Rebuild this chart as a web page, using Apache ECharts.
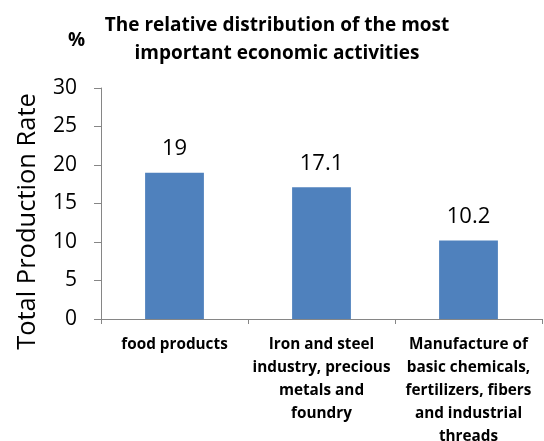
<!DOCTYPE html>
<html><head><meta charset="utf-8">
<script src="https://cdn.jsdelivr.net/npm/echarts@6/dist/echarts.min.js"></script>
<style>html,body{margin:0;padding:0;background:#fff}#c{width:544px;height:441px}</style>
</head><body><div id="c"></div>
<script>
const categories = [
  "food products",
  "Iron and steel\nindustry, precious\nmetals and\nfoundry",
  "Manufacture of\nbasic chemicals,\nfertilizers, fibers\nand industrial\nthreads"
];
const values = [19, 17.1, 10.2];
const yTicks = [0, 5, 10, 15, 20, 25, 30];

const font = "'Open Sans', sans-serif";
const chart = echarts.init(document.getElementById('c'));
chart.setOption({
  animation: false,
  title: [{
    text: "The relative distribution of the most\nimportant economic activities",
    left: 272, top: 7, textAlign: 'center',
    textStyle: {fontFamily: font, fontWeight: 'bold', fontSize: 19, lineHeight: 28, color: '#000'}
  }, {
    text: "%", left: 63, top: 26,
    textStyle: {fontFamily: font, fontWeight: 'bold', fontSize: 19, color: '#000'}
  }],
  grid: {left: 101, right: 2, top: 88, bottom: 122, containLabel: false, outerBoundsMode: 'none'},
  xAxis: {
    type: 'category', data: categories,
    axisLine: {lineStyle: {color: '#868686', width: 1}},
    axisTick: {show: true, alignWithLabel: false, length: 5, lineStyle: {color: '#868686'}},
    axisLabel: {interval: 0, fontFamily: font, fontWeight: 'bold', fontSize: 15.3, lineHeight: 23, color: '#000', margin: 14, align: 'center'}
  },
  yAxis: {
    type: 'value', min: 0, max: 30, interval: 5,
    name: 'Total Production Rate', nameLocation: 'middle', nameGap: 60,
    nameTextStyle: {fontFamily: font, fontSize: 25.5, color: '#000', padding: [0, 0, 0, -36]},
    axisLine: {show: true, lineStyle: {color: '#868686'}},
    axisTick: {show: true, length: 7, lineStyle: {color: '#868686'}},
    splitLine: {show: false},
    axisLabel: {fontFamily: font, fontSize: 21, color: '#000', margin: 24,
      formatter: v => yTicks.includes(v) ? String(v) : ''}
  },
  series: [{
    type: 'bar', data: values, barWidth: '40%',
    itemStyle: {color: '#4F81BD'},
    label: {show: true, position: 'top', distance: 13, fontFamily: font, fontSize: 22, color: '#000'}
  }]
});
</script></body></html>
